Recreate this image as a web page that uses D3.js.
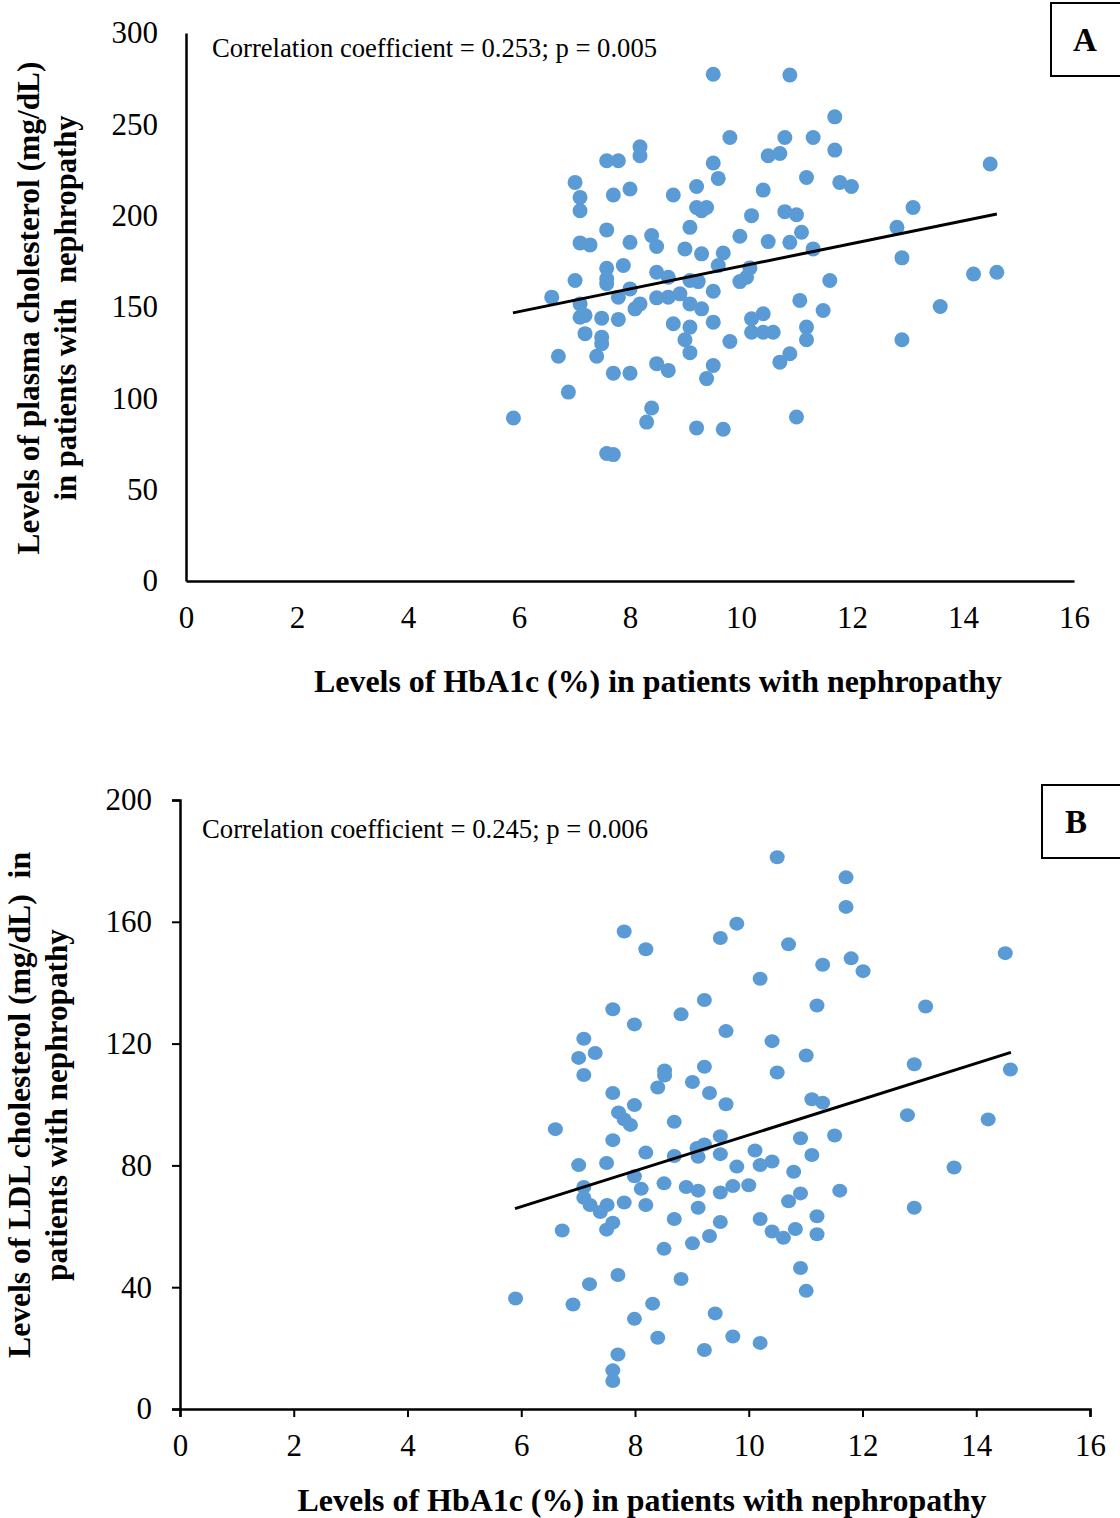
<!DOCTYPE html>
<html>
<head>
<meta charset="utf-8">
<script src="https://cdn.jsdelivr.net/npm/d3@7"></script>
<style>
    body { margin: 0; background: #fff; }
    svg { display: block; font-family: "Liberation Serif", "Times New Roman", serif; }
</style>
</head>
<body>
<div id="chart"></div>
<script>
// Panel A: HbA1c (%) vs plasma cholesterol (mg/dL)
const hba1cA = [9.50, 10.88, 9.80, 10.79, 10.49, 10.70, 8.18, 8.18, 7.58, 7.79,
    9.50, 9.59, 7.01, 8.00, 7.70, 8.78, 9.20, 10.40, 7.10, 7.10,
    9.20, 9.29, 9.38, 10.19, 10.79, 11.00, 7.58, 9.08, 8.39, 8.48,
    9.98, 7.10, 7.28, 8.00, 8.99, 9.29, 9.68, 10.49, 10.88, 7.88,
    7.58, 7.58, 7.58, 7.01, 8.48, 8.69, 9.08, 9.23, 9.59, 10.16,
    10.10, 9.98, 6.59, 7.10, 8.00, 7.79, 8.48, 8.69, 8.90, 9.50,
    11.06, 7.10, 7.19, 7.49, 7.79, 8.09, 8.18, 9.08, 9.29, 8.78,
    9.08, 9.50, 10.19, 10.40, 7.19, 7.49, 7.49, 8.99, 9.08, 9.80,
    10.19, 10.40, 10.58, 6.71, 7.40, 10.70, 10.88, 8.48, 8.69, 9.50,
    9.38, 7.70, 8.00, 6.89, 5.90, 8.39, 8.30, 9.20, 9.68, 11.00,
    7.58, 7.70, 11.69, 11.30, 11.69, 11.18, 11.78, 11.99, 14.49, 11.09,
    11.30, 12.81, 13.10, 12.90, 14.19, 14.61, 11.60, 11.48, 13.59, 11.18,
    11.18, 12.90];
const cholA = [277.4, 277.0, 242.8, 242.8, 232.8, 234.0, 237.7, 232.8, 230.1, 230.1,
    228.8, 220.4, 218.2, 214.6, 211.3, 211.3, 216.0, 214.0, 210.0, 202.7,
    204.5, 202.7, 204.5, 200.0, 202.2, 200.5, 192.2, 193.6, 189.1, 183.1,
    188.7, 185.1, 184.0, 185.4, 181.8, 179.1, 179.6, 185.8, 185.4, 172.7,
    171.2, 165.4, 162.7, 164.5, 169.0, 166.3, 164.5, 163.9, 172.7, 171.4,
    166.3, 163.9, 155.4, 151.7, 159.9, 155.4, 155.0, 155.4, 157.2, 158.6,
    153.6, 144.4, 145.4, 143.9, 143.2, 149.0, 151.7, 151.7, 149.0, 140.8,
    139.0, 141.7, 143.6, 146.3, 135.4, 133.5, 129.9, 132.1, 125.0, 131.1,
    136.2, 136.2, 136.2, 123.0, 123.0, 119.8, 124.4, 119.0, 115.3, 118.0,
    110.8, 113.8, 113.8, 103.4, 89.2, 94.7, 87.0, 83.8, 83.1, 89.8,
    69.8, 69.2, 254.1, 242.8, 235.9, 220.9, 218.2, 216.0, 228.3, 190.9,
    181.8, 193.6, 204.5, 176.9, 168.1, 169.0, 164.5, 148.1, 150.3, 139.0,
    132.1, 132.1];
const trendA = [[5.89, 146.8], [14.61, 200.9]];
const yTicksA = [0, 50, 100, 150, 200, 250, 300];

// Panel B: HbA1c (%) vs LDL cholesterol (mg/dL)
const hba1cB = [10.50, 7.81, 8.19, 9.50, 9.79, 10.70, 10.20, 7.61, 7.99, 8.81,
    9.22, 9.60, 10.41, 10.50, 7.10, 7.01, 7.30, 7.10, 8.52, 8.52,
    8.40, 9.01, 9.22, 9.31, 9.60, 7.61, 7.99, 7.71, 7.81, 7.92,
    6.60, 7.61, 8.69, 8.19, 7.01, 7.50, 8.69, 9.09, 9.22, 9.11,
    9.50, 9.50, 10.11, 9.79, 10.20, 10.41, 10.79, 7.10, 7.10, 7.21,
    7.51, 7.39, 7.99, 8.11, 7.81, 8.19, 8.51, 8.90, 9.11, 9.11,
    9.50, 9.72, 10.00, 10.70, 7.61, 7.50, 6.72, 8.69, 9.50, 9.31,
    9.01, 8.51, 10.20, 10.41, 10.61, 7.70, 7.20, 8.81, 5.90, 6.91,
    8.31, 7.99, 9.41, 8.40, 9.72, 10.20, 9.22, 7.70, 7.61, 7.61,
    11.71, 11.71, 11.30, 11.80, 12.01, 14.51, 11.20, 13.11, 11.01, 12.91,
    14.60, 11.11, 11.30, 12.79, 14.21, 10.91, 11.51, 11.11, 13.61, 10.91,
    11.60, 12.91, 11.20, 11.20, 10.82, 10.91, 11.01];
const ldlB = [181.2, 156.8, 151.0, 154.7, 159.4, 152.6, 141.3, 131.3, 126.3, 129.6,
    134.3, 124.1, 120.8, 110.5, 121.6, 115.3, 116.9, 109.7, 111.2, 109.5,
    105.6, 107.4, 112.4, 103.8, 100.1, 103.8, 99.8, 97.4, 95.1, 93.3,
    91.9, 88.3, 94.3, 84.2, 80.1, 80.8, 83.1, 85.7, 86.9, 82.8,
    89.6, 83.7, 84.9, 79.6, 80.1, 81.3, 77.9, 72.9, 69.4, 67.0,
    67.0, 64.7, 76.4, 72.3, 67.8, 67.0, 74.1, 72.9, 71.7, 66.1,
    71.1, 73.2, 73.5, 68.2, 61.2, 58.9, 58.6, 62.4, 61.4, 56.8,
    54.4, 52.6, 62.4, 58.3, 56.2, 44.0, 41.0, 42.7, 36.3, 34.3,
    34.6, 29.6, 31.4, 23.4, 23.8, 21.7, 19.4, 17.9, 12.7, 9.2,
    174.6, 164.9, 145.9, 148.0, 143.8, 149.7, 132.5, 132.2, 116.1, 113.2,
    111.5, 101.7, 100.6, 96.5, 95.1, 88.9, 89.8, 83.4, 79.3, 70.8,
    71.7, 66.1, 63.3, 57.4, 59.1, 46.3, 38.8];
const trendB = [[5.89, 65.8], [14.61, 117.1]];
const yTicksB = [0, 40, 80, 120, 160, 200];

const xTicks = [0, 2, 4, 6, 8, 10, 12, 14, 16];
const dotColor = "#5B9BD5";

const svg = d3.select("#chart").append("svg")
    .attr("width", 1120)
    .attr("height", 1518);

// one scatter panel; cfg holds the layout, data comes from the arrays above
function drawPanel(cfg) {
    const x = d3.scaleLinear().domain([0, 16]).range([cfg.left, cfg.right]);
    const y = d3.scaleLinear().domain(cfg.yDomain).range([cfg.bottom, cfg.top]);
    const g = svg.append("g");

    const xAxis = d3.axisBottom(x).tickValues(xTicks).tickSize(cfg.tick).tickPadding(cfg.xPad);
    const yAxis = d3.axisLeft(y).tickValues(cfg.yTicks).tickSize(cfg.tick).tickPadding(cfg.yPad);

    const gx = g.append("g").attr("transform", `translate(0,${cfg.bottom})`).call(xAxis);
    const gy = g.append("g").attr("transform", `translate(${cfg.left},0)`).call(yAxis);

    [gx, gy].forEach(a => {
        a.select(".domain").attr("stroke", "#000").attr("stroke-width", 2.5);
        a.selectAll(".tick line").attr("stroke", "#000").attr("stroke-width", 2);
        a.selectAll(".tick text")
            .attr("fill", "#000")
            .style("font-family", "Liberation Serif, serif")
            .style("font-size", "31px");
    });

    g.selectAll(".dot")
        .data(d3.zip(cfg.xs, cfg.ys))
        .enter()
        .append("ellipse")
        .attr("cx", d => x(d[0]))
        .attr("cy", d => y(d[1]))
        .attr("rx", cfg.rx)
        .attr("ry", cfg.ry)
        .attr("fill", dotColor);

    g.append("line")
        .attr("x1", x(cfg.trend[0][0])).attr("y1", y(cfg.trend[0][1]))
        .attr("x2", x(cfg.trend[1][0])).attr("y2", y(cfg.trend[1][1]))
        .attr("stroke", "#000")
        .attr("stroke-width", 3);

    g.append("text")
        .attr("x", cfg.noteX).attr("y", cfg.noteY)
        .attr("textLength", cfg.noteLen).attr("lengthAdjust", "spacingAndGlyphs")
        .style("font-size", "26.5px")
        .text(cfg.note);

    g.append("text")
        .attr("x", cfg.titleX).attr("y", cfg.titleY)
        .attr("text-anchor", "middle")
        .attr("textLength", cfg.titleLen).attr("lengthAdjust", "spacingAndGlyphs")
        .style("font-size", "32px").style("font-weight", "bold")
        .text("Levels of HbA1c (%) in patients with nephropathy");

    cfg.yTitle.forEach((line, i) => {
        g.append("text")
            .attr("transform", `translate(${cfg.yTitleX[i]},${cfg.yTitleY}) rotate(-90)`)
            .attr("text-anchor", "middle")
            .attr("textLength", cfg.yTitleLen[i]).attr("lengthAdjust", "spacingAndGlyphs")
            .style("font-size", "31px").style("font-weight", "bold")
            .style("white-space", "pre")
            .text(line);
    });

    g.append("rect")
        .attr("x", cfg.box[0]).attr("y", cfg.box[1])
        .attr("width", 100).attr("height", 73)
        .attr("fill", "#fff").attr("stroke", "#000").attr("stroke-width", 2);
    g.append("text")
        .attr("x", cfg.box[0] + 34).attr("y", cfg.box[1] + 48)
        .attr("text-anchor", "middle")
        .style("font-size", "33px").style("font-weight", "bold")
        .text(cfg.label);
}

drawPanel({
    left: 186, right: 1074, top: 33, bottom: 581,
    yDomain: [0, 300], yTicks: yTicksA, tick: 0, xPad: 25, yPad: 28,
    xs: hba1cA, ys: cholA, trend: trendA, rx: 7.5, ry: 7.5,
    note: "Correlation coefficient = 0.253; p = 0.005", noteX: 212, noteY: 57, noteLen: 445,
    titleX: 658, titleY: 692, titleLen: 688,
    yTitle: ["Levels of plasma cholesterol (mg/dL)", "in patients with  nephropathy"],
    yTitleX: [39, 76], yTitleY: 308, yTitleLen: [493, 385],
    box: [1051, 3], label: "A"
});

drawPanel({
    left: 180, right: 1090, top: 800, bottom: 1409,
    yDomain: [0, 200], yTicks: yTicksB, tick: 8, xPad: 17, yPad: 20,
    xs: hba1cB, ys: ldlB, trend: trendB, rx: 7.5, ry: 7,
    note: "Correlation coefficient = 0.245; p = 0.006", noteX: 202, noteY: 838, noteLen: 446,
    titleX: 642, titleY: 1511, titleLen: 689,
    yTitle: ["Levels of LDL cholesterol (mg/dL)  in", "patients with nephropathy"],
    yTitleX: [30, 67], yTitleY: 1105, yTitleLen: [506, 352],
    box: [1042, 785], label: "B"
});
</script>
</body>
</html>
